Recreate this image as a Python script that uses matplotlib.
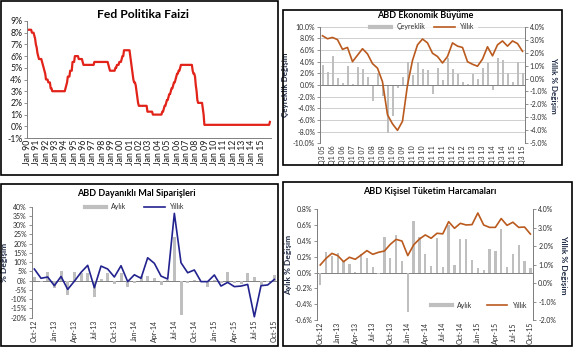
import numpy as np
import pandas as pd
import matplotlib
matplotlib.use('Agg')
import matplotlib.pyplot as plt
import matplotlib.dates as mdates
from matplotlib.lines import Line2D
from matplotlib.patches import Rectangle

plt.rcParams['font.family'] = ['Lato', 'DejaVu Sans']

# --- Fed policy rate (change dates, %)
fed_dates = ['1990-01', '1990-07', '1990-10', '1990-11', '1990-12', '1991-01', '1991-02',
             '1991-03', '1991-04', '1991-08', '1991-09', '1991-10', '1991-11', '1991-12',
             '1992-01', '1992-04', '1992-07', '1992-09', '1994-02', '1994-03', '1994-04',
             '1994-05', '1994-08', '1994-11', '1995-02', '1995-07', '1995-12', '1996-01',
             '1997-03', '1998-09', '1998-10', '1998-11', '1999-06', '1999-08', '1999-11',
             '2000-02', '2000-03', '2000-05', '2001-01', '2001-02', '2001-03', '2001-04',
             '2001-05', '2001-06', '2001-08', '2001-09', '2001-10', '2001-11', '2001-12',
             '2002-11', '2003-06', '2004-06', '2004-08', '2004-09', '2004-11', '2004-12',
             '2005-02', '2005-03', '2005-05', '2005-06', '2005-08', '2005-09', '2005-11',
             '2005-12', '2006-01', '2006-03', '2006-05', '2006-06', '2007-09', '2007-10',
             '2007-12', '2008-01', '2008-02', '2008-03', '2008-04', '2008-10', '2008-11',
             '2008-12', '2015-12']
fed_rates = [8.25, 8.0, 7.75, 7.5, 7.0, 6.75, 6.25,
             6.0, 5.75, 5.5, 5.25, 5.0, 4.75, 4.5,
             4.0, 3.75, 3.25, 3.0, 3.25, 3.5, 3.75,
             4.25, 4.75, 5.5, 6.0, 5.75, 5.5, 5.25,
             5.5, 5.25, 5.0, 4.75, 5.0, 5.25, 5.5,
             5.75, 6.0, 6.5, 6.0, 5.5, 5.0, 4.5,
             4.0, 3.75, 3.5, 3.0, 2.5, 2.0, 1.75,
             1.25, 1.0, 1.25, 1.5, 1.75, 2.0, 2.25,
             2.5, 2.75, 3.0, 3.25, 3.5, 3.75, 4.0,
             4.25, 4.5, 4.75, 5.0, 5.25, 4.75, 4.5,
             4.25, 3.5, 3.0, 2.25, 2.0, 1.5, 1.0,
             0.125, 0.375]
fed_ticks = pd.date_range('1990-01-01', '2015-01-01', freq='YS')

# --- US GDP growth, Q3 2005 - Q3 2015
gdp_quarters = pd.period_range('2005Q3', '2015Q3', freq='Q')
gdp_qoq = [3.4, 2.3, 4.9, 1.2, 0.4, 3.2, 0.2, 3.1, 2.7, 1.4,
           -2.7, 2.0, -1.9, -8.2, -5.4, -0.5, 1.3, 3.9, 1.7, 3.9,
           2.7, 2.5, -1.5, 2.9, 0.8, 4.6, 2.7, 1.9, 0.5, 0.1,
           1.9, 1.1, 3.0, 3.8, -0.9, 4.6, 4.3, 2.1, 0.6, 3.9, 2.0]
gdp_yoy = [3.3, 3.07, 3.17, 3.0, 2.25, 2.4, 1.3, 1.8, 2.3, 1.9,
           1.15, 0.8, -0.25, -2.8, -3.5, -4.0, -3.3, -0.5, 1.4, 2.6,
           3.05, 2.75, 1.95, 1.7, 1.2, 1.7, 2.75, 2.5, 2.4, 1.3,
           1.1, 0.95, 1.5, 2.45, 1.75, 2.6, 2.9, 2.5, 2.9, 2.7, 2.1]
gdp_labels = [f'Q{p.quarter} {p.year % 100:02d}' for p in gdp_quarters]

# --- monthly series, Oct 2012 - Oct 2015
months = pd.date_range('2012-10-01', '2015-10-01', freq='MS')
month_labels = [m.strftime('%b-%y') for m in months]
dur_mom = [2.0, -0.5, 4.6, -4.0, 5.3, -7.7, 4.5, 4.2, 4.3, -8.6,
           0.7, 4.3, -1.9, 4.3, -3.6, -1.0, 2.4, 2.6, 1.2, -2.3,
           0.4, 23.8, -18.4, -1.0, 0.4, -0.5, -3.6, 0.5, -1.4, 4.8,
           -1.0, -2.0, 4.3, 2.2, -2.5, -0.5, 3.0]
dur_yoy = [6.3, 1.3, 2.0, -2.7, 2.3, -4.7, -0.3, 4.5, 8.3, -3.8,
           7.9, 6.3, 2.0, 8.1, -0.5, 3.2, 1.3, 12.4, 9.4, 2.5,
           0.9, 36.4, 9.7, 4.3, 5.8, -0.5, -0.5, 3.1, -2.9, -0.9,
           -3.2, -2.9, -2.0, -19.5, -2.7, -2.3, 0.7]
pce_mom = [-0.16, 0.26, 0.21, 0.25, 0.14, 0.11, 0.01, 0.24, 0.19, 0.07,
           -0.02, 0.45, 0.19, 0.48, 0.14, -0.50, 0.65, 0.45, 0.23, 0.08,
           0.44, 0.07, 0.60, 0.09, 0.43, 0.42, 0.16, 0.06, 0.03, 0.30,
           0.27, 0.55, 0.07, 0.23, 0.35, 0.14, 0.06]
pce_yoy = [0.98, 1.34, 1.61, 1.49, 1.16, 1.40, 1.29, 1.52, 1.76, 1.56,
           1.67, 1.74, 2.10, 2.37, 2.28, 1.49, 2.07, 2.39, 2.61, 2.43,
           2.70, 2.67, 3.33, 2.97, 3.24, 3.15, 3.17, 3.80, 3.15, 3.02,
           3.02, 3.50, 3.13, 3.30, 3.02, 3.04, 2.66]

GRAY = '#BFBFBF'
BROWN = '#BA5A1E'
NAVY = '#23238F'
RED = '#E2231A'
AXC = '#808080'
TXT = '#2B2B2B'
LBL = '#1F2A44'

W, H = 576, 353


def rect(l, t, r, b):
    return [l / W, 1 - b / H, (r - l) / W, (b - t) / H]


def style(ax, size=5):
    for s in ax.spines.values():
        s.set_color(AXC)
        s.set_linewidth(0.7)
    ax.tick_params(direction='out', length=2, width=0.6, color=AXC,
                   labelsize=size, labelcolor=TXT, pad=1.5)


def pct(dec):
    return lambda v, p: f'{v:.{dec}f}%'


fig = plt.figure(figsize=(5.76, 3.53), dpi=100)

# panel frames
for l, t, r, b in [(1, 1, 278, 175), (283, 10, 562, 165), (1, 184, 278, 346), (283, 182, 572, 346)]:
    fig.patches.append(Rectangle((l / W, 1 - b / H), (r - l) / W, (b - t) / H,
                                 transform=fig.transFigure, fill=False, ec='black', lw=1.2))

# ========== 1) Fed Politika Faizi
fed = pd.Series(fed_rates, index=pd.to_datetime(fed_dates)).resample('MS').ffill()
ax1 = fig.add_axes(rect(27.3, 21, 270.7, 138))
ax1.plot(fed.index, fed.values, color=RED, lw=1.6)
ax1.set_xlim(pd.Timestamp('1990-01-01'), pd.Timestamp('2016-01-01'))
ax1.set_ylim(-1, 9)
ax1.set_yticks(range(-1, 10))
ax1.yaxis.set_major_formatter(pct(0))
ax1.set_xticks(fed_ticks)
ax1.xaxis.set_major_formatter(mdates.DateFormatter('%b %y'))
style(ax1, 6.3)
ax1.tick_params(labelcolor='#1A1A1A')
ax1.tick_params(axis='x', length=0, rotation=90)
for s in ['top', 'right']:
    ax1.spines[s].set_visible(False)
fig.text(143 / W, 1 - 14 / H, 'Fed Politika Faizi', ha='center', va='center',
         fontsize=8.7, fontweight='bold')

# ========== 2) ABD Ekonomik Büyüme
x = np.arange(len(gdp_qoq))
ax2 = fig.add_axes(rect(320, 26.7, 525, 143.3))
ax2.bar(x, gdp_qoq, width=0.4, color=GRAY, zorder=2)
ax2.set_ylim(-10, 10)
ax2.set_yticks(range(-10, 11, 2))
ax2.yaxis.set_major_formatter(pct(1))
ax2.yaxis.grid(True, color='#C8C8C8', lw=0.6)
ax2.set_axisbelow(True)
ax2.axhline(0, color=AXC, lw=0.7, zorder=3)
ax2.set_xlim(-0.5, len(x) - 0.5)
ax2.set_xticks(x[::2])
ax2.set_xticklabels(gdp_labels[::2], rotation=90)
ax2.set_ylabel('Çeyreklik Değişim', fontsize=5.8, fontweight='bold', color=LBL, labelpad=3)
ax2r = ax2.twinx()
ax2r.plot(x, gdp_yoy, color=BROWN, lw=1.2)
ax2r.set_ylim(-5, 4)
ax2r.set_yticks(range(-5, 5))
ax2r.yaxis.set_major_formatter(pct(1))
ax2r.set_ylabel('Yıllık % Değişim', fontsize=5.8, fontweight='bold', color=LBL,
                rotation=270, labelpad=7)
for a in (ax2, ax2r):
    style(a)
    a.spines['top'].set_visible(False)
    a.spines['bottom'].set_visible(False)
ax2.tick_params(axis='x', length=0)
leg = ax2r.legend([Line2D([], [], color=GRAY, lw=3), Line2D([], [], color=BROWN, lw=1.2)],
                  ['Çeyreklik', 'Yıllık'], loc='center', bbox_to_anchor=(0.5, 1.0), ncol=2,
                  fontsize=5, frameon=True, fancybox=False, handlelength=3, columnspacing=1.2,
                  borderpad=0.3, labelcolor=TXT)
leg.get_frame().set_edgecolor('white')
fig.text(425 / W, 1 - 15 / H, 'ABD Ekonomik Büyüme', ha='center', va='center',
         fontsize=6.5, fontweight='bold')

# ========== 3) ABD Dayanıklı Mal Siparişleri
m = np.arange(len(dur_mom))
ax3 = fig.add_axes(rect(31.7, 206.7, 277, 317.7))
ax3.bar(m, dur_mom, width=0.45, color=GRAY, zorder=2)
ax3.plot(m, dur_yoy, color=NAVY, lw=1.2, zorder=3)
ax3.axhline(0, color=AXC, lw=0.7, zorder=1)
ax3.set_ylim(-20, 40)
ax3.set_yticks(range(-20, 41, 5))
ax3.yaxis.set_major_formatter(pct(0))
ax3.set_xlim(-0.4, len(m) - 0.6)
ax3.set_xticks(m[::3])
ax3.set_xticklabels(month_labels[::3], rotation=90)
style(ax3)
ax3.tick_params(axis='x', length=0)
for s in ['top', 'right', 'bottom']:
    ax3.spines[s].set_visible(False)
ax3.set_ylabel('% Değişim', fontsize=6, fontweight='bold', color=LBL, labelpad=2)
ax3.legend([Line2D([], [], color=GRAY, lw=3), Line2D([], [], color=NAVY, lw=1.2)],
           ['Aylık', 'Yıllık'], loc='center', bbox_to_anchor=(0.42, 1.0), ncol=2,
           fontsize=5, frameon=False, handlelength=3, columnspacing=2.5, labelcolor=TXT)
fig.text(136 / W, 1 - 193 / H, 'ABD Dayanıklı Mal Siparişleri', ha='center', va='center',
         fontsize=6.5, fontweight='bold')

# ========== 4) ABD Kişisel Tüketim Harcamaları
ax4 = fig.add_axes(rect(317.3, 209.3, 533.3, 320))
ax4.bar(m, pce_mom, width=0.4, color=GRAY, zorder=2)
ax4.axhline(0, color=AXC, lw=0.7, zorder=1)
ax4.set_ylim(-0.6, 0.8)
ax4.set_yticks(np.arange(-0.6, 0.81, 0.2))
ax4.yaxis.set_major_formatter(pct(1))
ax4.set_xlim(-0.5, len(m) - 0.5)
ax4.set_xticks(m[::3])
ax4.set_xticklabels(month_labels[::3], rotation=90)
ax4.set_ylabel('Aylık % Değişim', fontsize=6, fontweight='bold', color=LBL, labelpad=2)
ax4r = ax4.twinx()
ax4r.plot(m, pce_yoy, color=BROWN, lw=1.2)
ax4r.set_ylim(-2, 4)
ax4r.set_yticks(range(-2, 5))
ax4r.yaxis.set_major_formatter(pct(1))
ax4r.set_ylabel('Yıllık % Değişim', fontsize=6, fontweight='bold', color=LBL,
                rotation=270, labelpad=8)
for a in (ax4, ax4r):
    style(a)
    a.spines['top'].set_visible(False)
    a.spines['bottom'].set_visible(False)
ax4.tick_params(axis='x', length=0)
ax4r.legend([Line2D([], [], color=GRAY, lw=3), Line2D([], [], color=BROWN, lw=1.2)],
            ['Aylık', 'Yıllık'], loc='center', bbox_to_anchor=(0.75, 0.135), ncol=2,
            fontsize=5, frameon=False, handlelength=3, columnspacing=2.0, labelcolor=TXT)
fig.text(430 / W, 1 - 191 / H, 'ABD Kişisel Tüketim Harcamaları', ha='center', va='center',
         fontsize=6.5, fontweight='bold')

fig.savefig('out.png', dpi=100)
